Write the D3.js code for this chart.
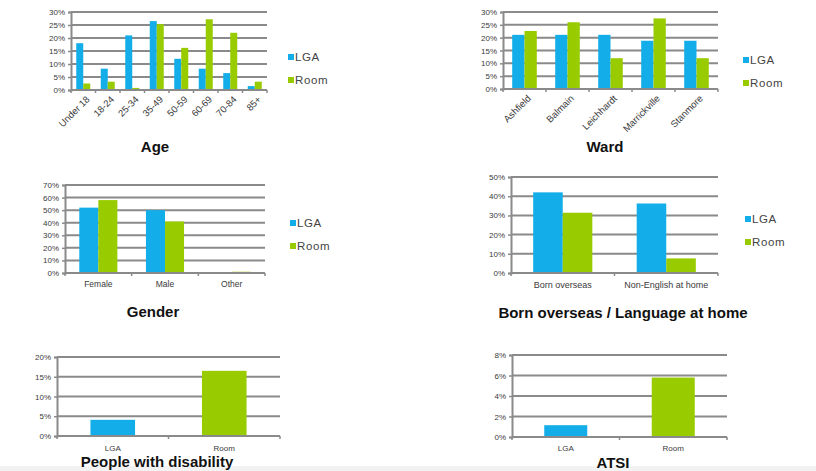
<!DOCTYPE html>
<html><head><meta charset="utf-8">
<script src="https://cdn.jsdelivr.net/npm/d3@7"></script>
<style>body{margin:0;background:#fff;}svg{display:block;font-family:"Liberation Sans",Arial,sans-serif;}</style>
</head><body>
<svg id="c" width="816" height="471"></svg>
<script>
// ---- data ----
const seriesNames = ["LGA", "Room"];
const ageCategories = ["Under 18", "18-24", "25-34", "35-49", "50-59", "60-69", "70-84", "85+"];
const ageLGA = [18, 8.2, 21, 26.5, 12, 8.2, 6.5, 1.5];
const ageRoom = [2.5, 3.2, 0.8, 25.3, 16.2, 27.2, 22, 3.2];
const ageTicks = [0, 5, 10, 15, 20, 25, 30];

const wardCategories = ["Ashfield", "Balmain", "Leichhardt", "Marrickville", "Stanmore"];
const wardLGA = [21.1, 21.1, 21.1, 18.8, 18.8];
const wardRoom = [22.6, 26, 12, 27.5, 12];
const wardTicks = [0, 5, 10, 15, 20, 25, 30];

const genderCategories = ["Female", "Male", "Other"];
const genderLGA = [52, 50, 0];
const genderRoom = [58, 41, 1];
const genderTicks = [0, 10, 20, 30, 40, 50, 60, 70];

const bornCategories = ["Born overseas", "Non-English at home"];
const bornLGA = [42, 36.2];
const bornRoom = [31.4, 7.6];
const bornTicks = [0, 10, 20, 30, 40, 50];

const disabilityCategories = ["LGA", "Room"];
const disabilityValues = [4.1, 16.5];
const disabilityTicks = [0, 5, 10, 15, 20];

const atsiCategories = ["LGA", "Room"];
const atsiValues = [1.15, 5.8];
const atsiTicks = [0, 2, 4, 6, 8];

// ---- styles ----
const BLUE = "#13aee9", GREEN = "#99cc00", GRID = "#8a8a8a", TXT = "#3a3a3a";
const svg = d3.select("#c");
svg.append("rect").attr("x", 0).attr("y", 466).attr("width", 816).attr("height", 5).attr("fill", "#f2f2f2");

function panel(o) {
  const g = svg.append("g");
  const x = d3.scaleBand().domain(o.categories).range([o.x0, o.x1]).paddingInner(0).paddingOuter(0);
  const y = d3.scaleLinear().domain([0, d3.max(o.ticks)]).range([o.y1, o.y0]);
  // gridlines
  g.selectAll(".grid").data(o.ticks).join("line")
    .attr("x1", o.x0).attr("x2", o.x1)
    .attr("y1", d => y(d)).attr("y2", d => y(d))
    .attr("stroke", GRID).attr("stroke-width", 2);
  // y axis
  const ya = d3.axisLeft(y).tickValues(o.ticks).tickSize(3).tickPadding(3).tickFormat(d => d + "%");
  const yg = g.append("g").attr("transform", `translate(${o.x0},0)`).call(ya);
  yg.select(".domain").attr("stroke", GRID).attr("stroke-width", 2);
  yg.selectAll(".tick line").attr("stroke", GRID).attr("stroke-width", 1.5);
  yg.selectAll("text").attr("fill", TXT).attr("font-size", 8).attr("font-family", "Liberation Sans, Arial");
  // x axis ticks at boundaries
  const bounds = o.categories.map(c => x(c)).concat([o.x1]);
  g.selectAll(".xt").data(bounds).join("line")
    .attr("x1", d => d).attr("x2", d => d).attr("y1", o.y1).attr("y2", o.y1 + 3)
    .attr("stroke", GRID).attr("stroke-width", 1.5);
  // bars
  const bw = x.bandwidth();
  if (o.series) {
    const w = bw / 3.5;
    o.series.forEach((s, si) => {
      g.selectAll(".b" + si).data(o.categories).join("rect")
        .attr("x", (c) => x(c) + 0.75 * w + si * w)
        .attr("width", w)
        .attr("y", (c, i) => y(s.values[i]))
        .attr("height", (c, i) => o.y1 - y(s.values[i]))
        .attr("fill", s.color);
    });
  } else {
    const w = bw / 2.5;
    g.selectAll(".b").data(o.categories).join("rect")
      .attr("x", c => x(c) + 0.75 * w)
      .attr("width", w)
      .attr("y", (c, i) => y(o.values[i]))
      .attr("height", (c, i) => o.y1 - y(o.values[i]))
      .attr("fill", (c, i) => o.colors[i]);
  }
  // re-draw baseline over bars
  g.append("line").attr("x1", o.x0).attr("x2", o.x1).attr("y1", o.y1).attr("y2", o.y1)
    .attr("stroke", GRID).attr("stroke-width", 2);
  // category labels
  if (o.rotate) {
    g.selectAll(".xl").data(o.categories).join("text")
      .attr("transform", c => `translate(${x(c) + bw / 2 + 3},${o.y1 + 6}) rotate(-45)`)
      .attr("text-anchor", "end").attr("dy", "0.6em")
      .attr("font-size", o.labelSize).attr("fill", TXT).text(c => c);
  } else {
    g.selectAll(".xl").data(o.categories).join("text")
      .attr("x", c => x(c) + bw / 2).attr("y", o.labelY)
      .attr("text-anchor", "middle")
      .attr("font-size", o.labelSize).attr("fill", TXT).text(c => c);
  }
  // legend
  if (o.legend) {
    o.series.forEach((s, i) => {
      const ly = o.legend.ys[i];
      g.append("rect").attr("x", o.legend.x).attr("y", ly - 6).attr("width", 6).attr("height", 6).attr("fill", s.color);
      g.append("text").attr("x", o.legend.x + 7).attr("y", ly + 0.5).attr("font-size", 11.5)
        .attr("fill", "#444").attr("letter-spacing", 0.6).text(s.name);
    });
  }
  // title
  g.append("text").attr("x", o.title.x).attr("y", o.title.y).attr("text-anchor", "middle")
    .attr("font-size", 15).attr("font-weight", "bold").attr("fill", "#111").text(o.title.text);
}

panel({ categories: ageCategories, ticks: ageTicks, x0: 71, x1: 267, y0: 12, y1: 90, rotate: true, labelSize: 9.5,
  series: [{ name: seriesNames[0], values: ageLGA, color: BLUE }, { name: seriesNames[1], values: ageRoom, color: GREEN }],
  legend: { x: 288, ys: [60, 83] }, title: { text: "Age", x: 155, y: 152 } });

panel({ categories: wardCategories, ticks: wardTicks, x0: 503, x1: 718, y0: 12, y1: 89, rotate: true, labelSize: 9.5,
  series: [{ name: seriesNames[0], values: wardLGA, color: BLUE }, { name: seriesNames[1], values: wardRoom, color: GREEN }],
  legend: { x: 743, ys: [63, 86] }, title: { text: "Ward", x: 605, y: 152 } });

panel({ categories: genderCategories, ticks: genderTicks, x0: 65, x1: 265, y0: 185, y1: 273, labelY: 287, labelSize: 8.5,
  series: [{ name: seriesNames[0], values: genderLGA, color: BLUE }, { name: seriesNames[1], values: genderRoom, color: GREEN }],
  legend: { x: 290, ys: [226, 249] }, title: { text: "Gender", x: 153, y: 317 } });

panel({ categories: bornCategories, ticks: bornTicks, x0: 511, x1: 718, y0: 177, y1: 273, labelY: 288, labelSize: 9,
  series: [{ name: seriesNames[0], values: bornLGA, color: BLUE }, { name: seriesNames[1], values: bornRoom, color: GREEN }],
  legend: { x: 745, ys: [222, 245] }, title: { text: "Born overseas / Language at home", x: 623, y: 318 } });

panel({ categories: disabilityCategories, ticks: disabilityTicks, x0: 57, x1: 280, y0: 357, y1: 436, labelY: 451, labelSize: 8,
  values: disabilityValues, colors: [BLUE, GREEN], title: { text: "People with disability", x: 157, y: 467 } });

panel({ categories: atsiCategories, ticks: atsiTicks, x0: 512, x1: 727, y0: 355, y1: 437, labelY: 451, labelSize: 8,
  values: atsiValues, colors: [BLUE, GREEN], title: { text: "ATSI", x: 613, y: 468 } });
</script>
</body></html>
